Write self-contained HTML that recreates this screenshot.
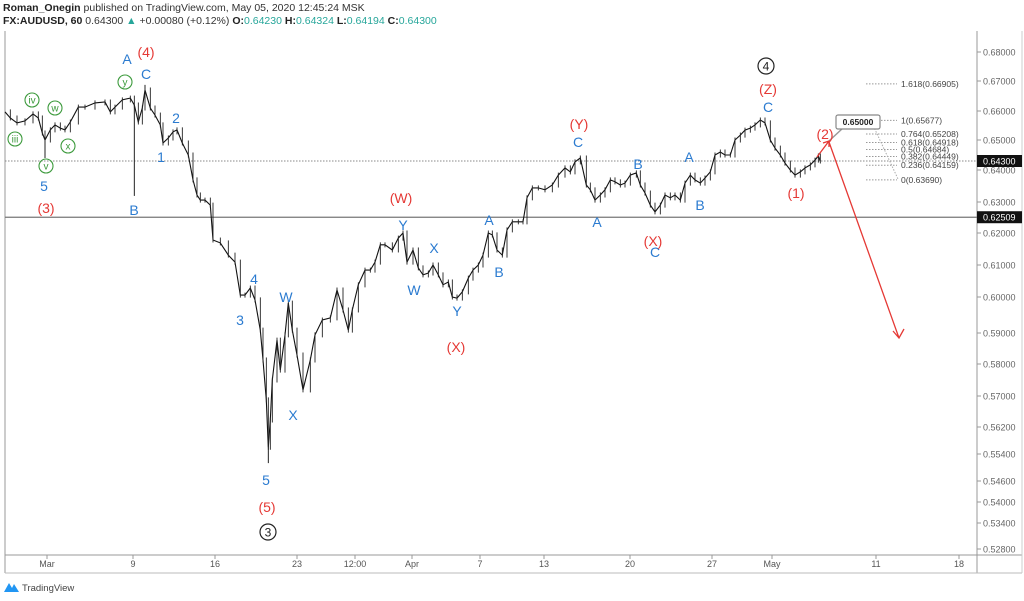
<!DOCTYPE html>
<html><head><meta charset="utf-8"><style>
body{margin:0;background:#fff;width:1024px;height:601px;overflow:hidden;font-family:"Liberation Sans",sans-serif}
#hdr{position:absolute;left:3px;top:2px;font-size:10.5px;color:#333;line-height:12.5px}
#hdr b{color:#222}
.g{color:#26a69a}
</style></head><body>
<div id="hdr">
<div><b>Roman_Onegin</b> published on TradingView.com, May 05, 2020 12:45:24 MSK</div>
<div><b>FX:AUDUSD, 60</b> 0.64300 <span class="g">▲</span> +0.00080 (+0.12%) <b>O:</b><span class="g">0.64230</span> <b>H:</b><span class="g">0.64324</span> <b>L:</b><span class="g">0.64194</span> <b>C:</b><span class="g">0.64300</span></div>
</div>
<svg id="c" width="1024" height="601" style="position:absolute;left:0;top:0"></svg>
<script>
const bars=[0,8,18,30,42,50,56,60,68,75,83,90,98,110,120,135,150,158,165,176,188,194,200,206,210,218,225,233,237,245,252,258,266,275,282,288,293,300,308,312,323,335,345,353,360,368,375,383,387,392,395,398,401,408,413,420,425,431,438,447,458,465,476,488,498,507,515,521,530,540,548,555,563,570,581,590,597,603,612,620,627,635,642,650,657,665,671,678,686,695,702,710,717,725,731,738,746,753,761,770,777,783,791,800,810,821,830,840,848,855,863,872,878,885,893,900,908,915,923,930,938,947,953,960,968,975,983,990,998,1005,1013,1020,1028,1035,1043,1050,1058,1065,1073,1080,1088,1095,1103,1110,1118,1125,1133,1140,1148,1155,1163,1170,1178,1185,1193,1200,1208,1215,1220,1223];
const closes=[.6597,.6576,.6559,.6566,.6590,.6576,.6524,.6500,.6535,.6552,.6541,.6535,.6562,.6613,.6613,.6627,.6630,.6597,.6613,.6637,.6643,.6620,.6562,.6610,.6670,.6610,.6586,.6552,.6490,.6507,.6528,.6535,.6490,.6450,.6369,.6322,.6306,.6306,.6290,.6178,.6169,.6131,.6109,.6006,.6006,.6028,.5992,.5908,.5813,.5690,.5560,.5638,.5750,.5877,.5781,.5894,.5983,.5908,.5829,.5719,.5813,.5894,.5936,.5942,.6022,.5964,.5908,.5964,.6038,.6084,.6084,.6109,.6163,.6163,.6147,.6184,.6200,.6109,.6147,.6091,.6069,.6075,.6100,.6069,.6038,.6047,.6000,.5997,.6016,.6059,.6084,.6100,.6131,.6200,.6194,.6147,.6131,.6210,.6236,.6236,.6236,.6313,.6344,.6344,.6338,.6353,.6384,.6407,.6394,.6427,.6440,.6353,.6338,.6306,.6322,.6338,.6369,.6363,.6353,.6359,.6384,.6391,.6353,.6328,.6290,.6268,.6290,.6322,.6313,.6322,.6306,.6359,.6384,.6369,.6359,.6375,.6394,.6450,.6460,.6450,.6450,.6500,.6517,.6534,.6541,.6552,.6569,.6559,.6500,.6473,.6450,.6423,.6400,.6384,.6394,.6407,.6417,.6433,.6447,.6430];
const spikeIdx=[7,21,24,50];
const spikePrice=[.6440,.6319,.6687,.5513];
const yTicks=[.68,.67,.66,.65,.64,.63,.62,.61,.60,.59,.58,.57,.562,.554,.546,.54,.534,.528];
const yTickPos=[52,81,111,140,170,202,233,265,297,333,364,396,427,454,481,502,523,549];
const xLabels=["Mar","9","16","23","12:00","Apr","7","13","20","27","May","11","18"];
const xLabelPos=[47,133,215,297,355,412,480,544,630,712,772,876,959];
const fibRatio=["1.618","1","0.764","0.618","0.5","0.382","0.236","0"];
const fibPrice=[.66905,.65677,.65208,.64918,.64684,.64449,.64159,.63690];
const lastPrice=.643, levelPrice=.62509;
const NS="http://www.w3.org/2000/svg", svg=document.getElementById('c');
function y(p){for(let i=0;i<yTicks.length-1;i++){if(p>=yTicks[i+1]||i==yTicks.length-2){return yTickPos[i]+(yTicks[i]-p)/(yTicks[i]-yTicks[i+1])*(yTickPos[i+1]-yTickPos[i]);}}}
function x(i){return 5+bars[i]/1.5;}
function el(t,a,txt){const e=document.createElementNS(NS,t);for(const k in a)e.setAttribute(k,a[k]);if(txt!==undefined)e.textContent=txt;svg.appendChild(e);return e;}
let e;
e=el('line',{x1:5,y1:31,x2:5,y2:573,stroke:'#999'});


e=el('line',{x1:977,y1:31,x2:977,y2:573,stroke:'#999'});


e=el('line',{x1:5,y1:555,x2:1022,y2:555,stroke:'#999'});


e=el('line',{x1:5,y1:573,x2:1022,y2:573,stroke:'#bbb'});


e=el('line',{x1:1022,y1:31,x2:1022,y2:573,stroke:'#ccc'});


yTicks.forEach((p,i)=>{
 e=el('line',{x1:977,x2:981,y1:y(p),y2:y(p),stroke:'#999'});
 
 
 e=el('text',{x:983,y:y(p)+3.5,'font-size':9,fill:'#666'},p.toFixed(5));
 
 
});
xLabels.forEach((l,i)=>{
 e=el('line',{x1:xLabelPos[i],x2:xLabelPos[i],y1:555,y2:559,stroke:'#999'});
 
 
 e=el('text',{x:xLabelPos[i],y:567,'font-size':9,fill:'#555','text-anchor':'middle'},l);
 
 
});
e=el('line',{x1:5,x2:977,y1:y(lastPrice),y2:y(lastPrice),stroke:'#888','stroke-dasharray':'1.5,1.5'});


e=el('line',{x1:5,x2:977,y1:y(levelPrice),y2:y(levelPrice),stroke:'#777','stroke-width':1.2});


[[lastPrice,'last-price-label'],[levelPrice,'level-price-label']].forEach(([p,n])=>{
 e=el('rect',{x:977,y:y(p)-6,width:45,height:12,fill:'#111'});
 
 
 e=el('text',{x:983,y:y(p)+3.5,'font-size':9,fill:'#fff'},p.toFixed(5));
 
 
});
let d='';closes.forEach((c,i)=>{d+=(i?'L':'M')+x(i).toFixed(1)+','+y(c).toFixed(1);});
e=el('path',{d:d,fill:'none',stroke:'#111','stroke-width':1.1});


closes.forEach((c,i)=>{if(i==0)return;const a=y(closes[i-1]),b=y(c);
 e=el('line',{x1:x(i),x2:x(i),y1:Math.min(a,b)-2.5,y2:Math.max(a,b)+2.5,stroke:'#222','stroke-width':0.9});
 
 });
spikeIdx.forEach((k,i)=>{
 e=el('line',{x1:x(k),x2:x(k),y1:y(closes[k]),y2:y(spikePrice[i]),stroke:'#222','stroke-width':1});
 
 
});
fibRatio.forEach((r,i)=>{const yy=y(fibPrice[i]);
 e=el('line',{x1:866,x2:897,y1:yy,y2:yy,stroke:'#999','stroke-dasharray':'1.5,1.5'});
 
 
 e=el('text',{x:901,y:yy+3,'font-size':8.5,fill:'#444'},r+'('+fibPrice[i].toFixed(5)+')');
 
 
});
e=el('line',{x1:872,x2:898,y1:123,y2:179,stroke:'#aaa','stroke-dasharray':'1.5,1.5'});


e=el('path',{d:'M829,141 L843,128',stroke:'#999','stroke-width':1.5,fill:'none'});


e=el('rect',{x:836,y:115,width:44,height:14,rx:2,fill:'#fff',stroke:'#888','stroke-width':1.2});


e=el('text',{x:858,y:125,'font-size':8.5,'font-weight':'bold',fill:'#222','text-anchor':'middle'},'0.65000');


e=el('path',{d:'M817,157 L829,141 M823,143 L829,141 L829,147',stroke:'#e53935','stroke-width':1.3,fill:'none'});


e=el('path',{d:'M829,142 L899,338 M893,331 L899,338 L904,329',stroke:'#e53935','stroke-width':1.3,fill:'none'});


const blue=[["A",127,64],["C",146,79],["2",176,123],["1",161,162],["B",134,215],["5",44,191],["4",254,284],["3",240,325],["W",286,302],["X",293,420],["5",266,485],["Y",403,230],["X",434,253],["W",414,295],["Y",457,316],["A",489,225],["B",499,277],["C",578,147],["A",597,227],["B",638,169],["C",655,257],["A",689,162],["B",700,210],["C",768,112]];
blue.forEach(([t,a,b])=>{e=el('text',{x:a,y:b,'font-size':14,fill:'#2b7bd0','text-anchor':'middle'},t);
 
 });
const red=[["(4)",146,57],["(3)",46,213],["(5)",267,512],["(W)",401,203],["(X)",456,352],["(Y)",579,129],["(X)",653,246],["(Z)",768,94],["(1)",796,198],["(2)",825,139]];
red.forEach(([t,a,b])=>{e=el('text',{x:a,y:b,'font-size':14,fill:'#e53935','text-anchor':'middle'},t);
 
 });
[["4",766,66],["3",268,532]].forEach(([t,a,b])=>{
 e=el('circle',{cx:a,cy:b,r:8,fill:'none',stroke:'#222','stroke-width':1.2});
 
 
 e=el('text',{x:a,y:b+4.5,'font-size':12,fill:'#222','text-anchor':'middle'},t);
 
 });
[["iii",15,139],["iv",32,100],["v",46,166],["w",55,108],["x",68,146],["y",125,82]].forEach(([t,a,b])=>{
 e=el('circle',{cx:a,cy:b,r:7,fill:'none',stroke:'#3c9a3c','stroke-width':1.1});
 
 
 e=el('text',{x:a,y:b+3.5,'font-size':10,fill:'#3c9a3c','text-anchor':'middle'},t);
 
 });
e=el('path',{d:'M4,592 L9,583 L12,588 L14,584 L19,592 Z',fill:'#2196f3'});


e=el('text',{x:22,y:591,'font-size':9.5,fill:'#444'},'TradingView');


</script>
</body></html>
